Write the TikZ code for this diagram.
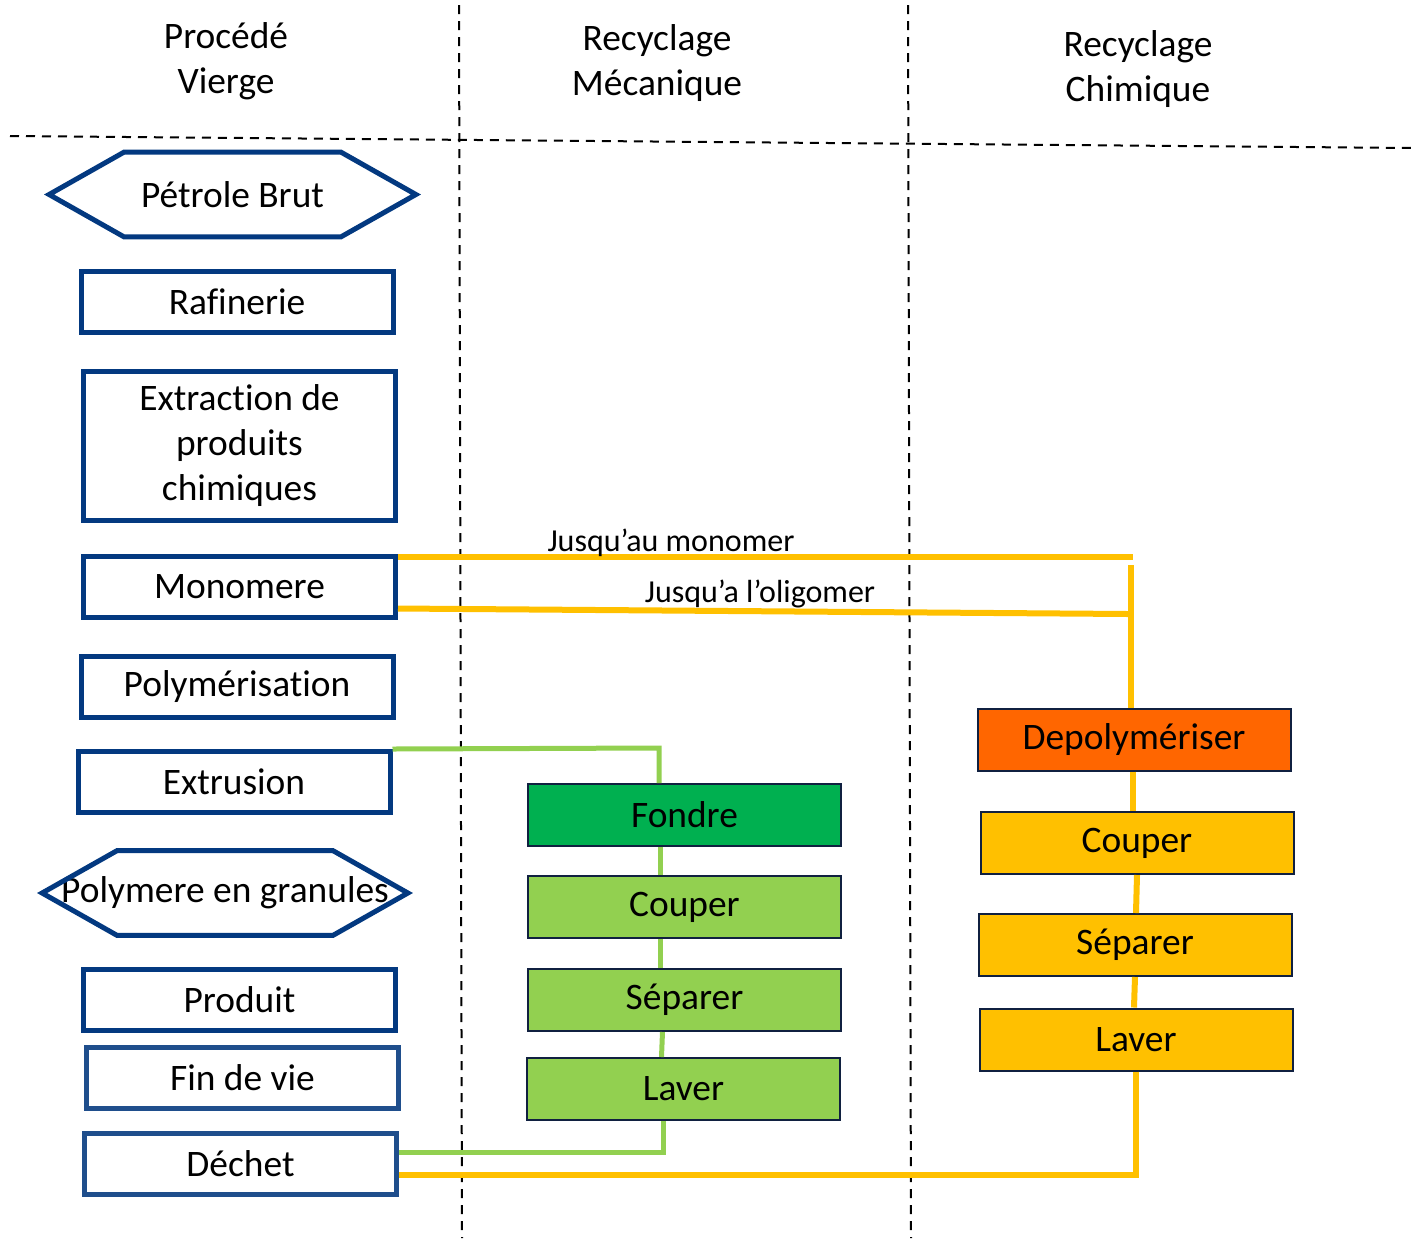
\documentclass[tikz,border=0pt]{standalone}
\usepackage{fontspec}
\setmainfont{Carlito}[Ligatures=NoCommon]

\definecolor{procblue}{RGB}{3,57,128}
\definecolor{lateblue}{RGB}{31,78,140}
\definecolor{darkgreen}{RGB}{0,176,80}
\definecolor{lightgreen}{RGB}{146,208,80}
\definecolor{orangered}{RGB}{255,102,0}
\definecolor{amber}{RGB}{255,192,0}
\definecolor{edge}{RGB}{16,32,64}

% hexagon frame round a plain node
\newcommand{\hexframe}[1]{%
  \draw[hexline] (#1.west) -- ([xshift=37.5pt]#1.north west) -- ([xshift=-37.5pt]#1.north east)
    -- (#1.east) -- ([xshift=-37.5pt]#1.south east) -- ([xshift=37.5pt]#1.south west) -- cycle;}

\begin{document}
\begin{tikzpicture}[
  x=0.5pt, y=-0.5pt,
  font=\fontsize{18.7}{22.5}\selectfont,
  box/.style={rectangle, align=center, inner sep=2pt},
  vierge/.style={box, draw=procblue, line width=2.5pt, minimum width=156pt, minimum height=30.5pt},
  finvie/.style={vierge, draw=lateblue},
  hexbox/.style={box, minimum width=183pt, minimum height=42pt},
  hexline/.style={draw=procblue, line width=2.5pt},
  meca/.style={box, draw=edge, line width=1pt, fill=lightgreen, minimum width=156.5pt, minimum height=31pt},
  chim/.style={meca, fill=amber},
  gline/.style={draw=lightgreen, line width=2.5pt},
  yline/.style={draw=amber, line width=3pt},
  sep/.style={dashed, dash pattern=on 4.5pt off 3.5pt, line width=1pt},
  head/.style={align=center},
  tag/.style={font=\fontsize{16}{18}\selectfont}
]
\useasboundingbox (0,0) rectangle (1414,1238);

\draw[sep] (10,136) -- (1414,148);
\draw[sep] (459,5) -- (462,1238);
\draw[sep] (908,5) -- (911,1238);

\node[head] (hvierge) at (226,61) {Procédé\\Vierge};
\node[head] (hmeca) at (657,63) {Recyclage\\Mécanique};
\node[head] (hchim) at (1138,69) {Recyclage\\Chimique};

% procede vierge
\node[hexbox] (brut) at (232.5,194.5) {Pétrole Brut};
\hexframe{brut}
\node[vierge] (rafin) at (237,301.5) {Rafinerie};
\node[vierge, minimum height=74.5pt] (extrac) at (239.5,446) {Extraction de\\produits\\chimiques};
\node[vierge] (mono) at (239.5,586.5) {Monomere};
\node[vierge] (polym) at (237,687) {Polymérisation};
\node[vierge] (extru) at (234,782) {Extrusion};
\node[hexbox, minimum width=182.5pt] (granul) at (225,893) {Polymere en granules};
\hexframe{granul}
\node[vierge] (produit) at (239.5,999.5) {Produit};
\node[finvie] (finvie) at (242.5,1078) {Fin de vie};
\node[finvie] (dechet) at (240.5,1163.5) {Déchet};

% recyclage mecanique
\node[meca, fill=darkgreen] (fondre) at (684.5,815) {Fondre};
\node[meca] (coupM) at (684.5,907) {Couper};
\node[meca] (sepM) at (684.5,1000) {Séparer};
\node[meca] (lavM) at (683.5,1089) {Laver};

% recyclage chimique
\node[chim, fill=orangered] (depol) at (1134,739.5) {Depolymériser};
\node[chim] (coupC) at (1137,843) {Couper};
\node[chim] (sepC) at (1135,945) {Séparer};
\node[chim] (lavC) at (1136,1039.5) {Laver};

% liaisons
\coordinate (gtop) at (659,748);
\coordinate (gbot) at (663,1152);
\draw[gline] (extru.north east) -- (gtop) -- (gtop |- fondre.north);
\draw[gline] ([xshift=-12pt]fondre.south) -- ([xshift=-12pt]coupM.north);
\draw[gline] ([xshift=-12pt]coupM.south) -- ([xshift=-12pt]sepM.north);
\draw[gline] ([xshift=-11pt]sepM.south) -- ([xshift=-11pt]lavM.north);
\draw[gline] (lavM.south -| gbot) -- (gbot) -- (dechet.east |- gbot);

\coordinate (ymono) at (1133,557);
\coordinate (yolig) at (1128,614);
\coordinate (ytop) at (1131,565);
\coordinate (ybot) at (1136,1175);
\draw[yline] (mono.north east |- ymono) -- (ymono);
\draw[yline] ([yshift=5.5pt]mono.south east) -- (yolig);
\draw[yline] (ytop) -- (ytop |- depol.north);
\draw[yline] ([xshift=-0.5pt]depol.south) -- ([xshift=-2pt]coupC.north);
\draw[yline] (coupC.south) -- ([xshift=0.5pt]sepC.north);
\draw[yline] (sepC.south) -- ([xshift=-1pt]lavC.north);
\draw[yline] (lavC.south -| ybot) -- (ybot) -- (dechet.east |- ybot);

\node[tag] (lmono) at (671,543) {Jusqu’au monomer};
\node[tag] (lolig) at (760,594) {Jusqu’a l’oligomer};

\end{tikzpicture}
\end{document}
